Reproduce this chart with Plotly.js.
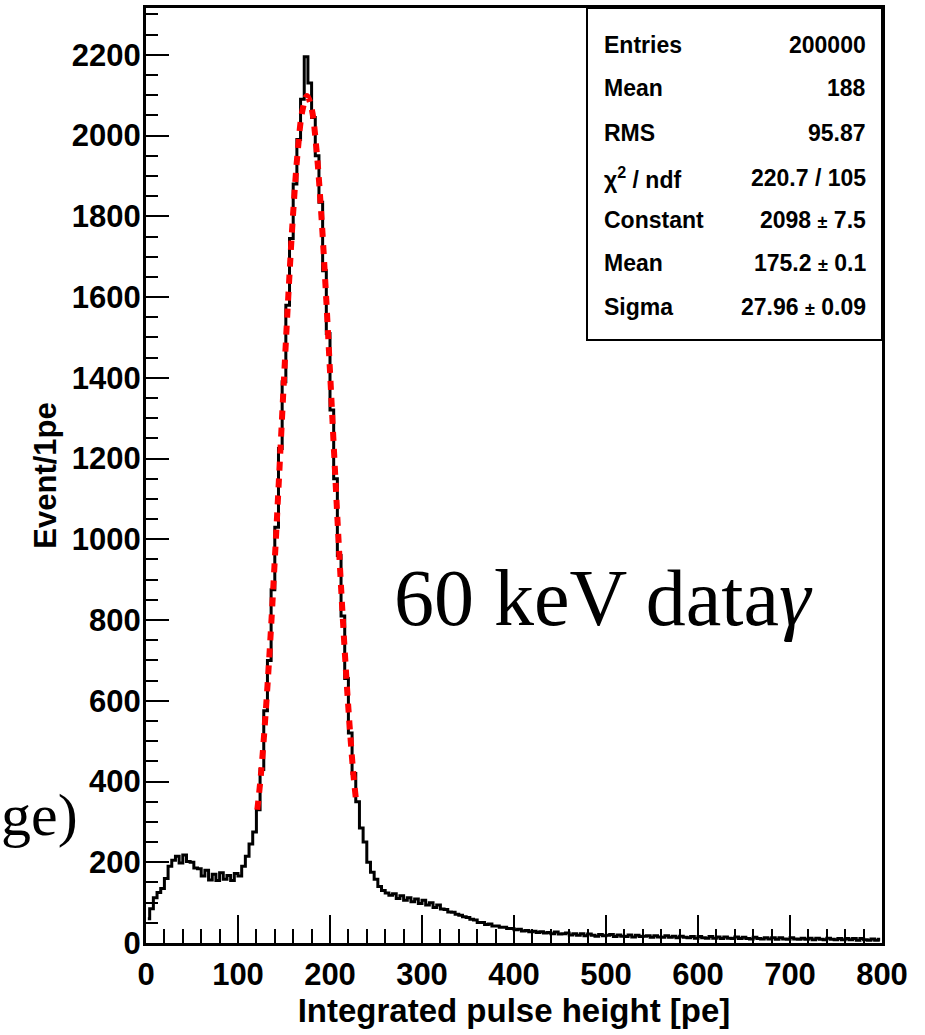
<!DOCTYPE html>
<html>
<head>
<meta charset="utf-8">
<script src="https://cdn.plot.ly/plotly-3.0.1.min.js"></script>
<style>html,body{margin:0;padding:0;background:#fff;}#chart{width:925px;height:1035px;}</style>
</head>
<body>
<div id="chart"></div>
<script>
// Histogram: 4 pe wide bins, values in Event/1pe
var binWidth = 4;
var countsLow = [60, 85, 112, 125, 135, 160, 190, 205, 215, 198, 218, 202, 200, 186, 184, 166, 180, 156, 170, 155,
                 174, 158, 167, 155, 172, 166, 190, 215, 245, 275];
var countsPeak = [330, 430, 575, 700, 875, 1030, 1225, 1390, 1580, 1745, 1880, 1990, 2090, 2195, 2130, 2045, 1950, 1835,
                  1665, 1510, 1320, 1150, 960, 810, 655, 520, 420, 350];
var countsTail = [285, 250, 200, 175, 158, 140, 130, 124, 118, 122, 110, 117, 106, 112, 102, 109, 98, 106, 94, 100,
                  88, 94, 84, 83, 77, 76, 71, 69, 65, 63, 59, 57, 51, 51, 46, 47, 42, 42, 39, 39,
                  36, 36, 33, 34, 30, 31, 28, 29, 26, 28, 25, 26];
var countsFlat = [23, 27, 22, 23, 25, 20, 23, 19, 23, 18, 22, 19, 17, 21, 18, 19, 21, 16, 20, 17,
                  16, 20, 15, 19, 16, 17, 18, 14, 18, 15, 14, 18, 14, 17, 13, 17, 14, 13, 16, 12,
                  16, 13, 12, 16, 12, 15, 11, 15, 12, 11, 15, 11, 14, 11, 10, 14, 11, 10, 13, 10,
                  13, 9, 13, 10, 9, 13, 10, 9, 12, 9, 12, 8, 12, 9, 8, 12, 9, 8, 11, 8,
                  11, 8, 11, 7, 11, 8, 7, 10, 7, 9];

// Gaussian fit curve
var fitX = [121, 125, 130, 135, 140, 145, 150, 155, 160, 165, 170, 175, 180, 185, 190, 195, 200, 205, 210, 215, 220, 225, 228];
var fitY = [330, 419, 568, 746, 950, 1171, 1398, 1616, 1810, 1963, 2062, 2098, 2067, 1973, 1824, 1633, 1416, 1189, 967, 762, 581, 429, 360];

// Stats box
var statLabels = ["Entries", "Mean", "RMS", "\u03c7<sup>2</sup> / ndf", "Constant", "Mean", "Sigma"];
var statValues = ["200000", "188", "95.87", "220.7 / 105", "2098 <span style='font-size:18px'>\u00b1</span> 7.5",
                  "175.2 <span style='font-size:18px'>\u00b1</span> 0.1", "27.96 <span style='font-size:18px'>\u00b1</span> 0.09"];

var xTitle = "Integrated pulse height [pe]";
var yTitle = "Event/1pe";
var dataLabel = "60 keV data<i>\u03b3</i>";
var sideLabel = "ge)";

var counts = countsLow.concat(countsPeak, countsTail, countsFlat);
var centers = counts.map(function(_, i){ return binWidth * i + binWidth / 2; });

var hist = {
  x: centers, y: counts, type: 'scatter', mode: 'lines',
  line: {color: '#000', width: 3, shape: 'hvh'}, hoverinfo: 'skip', showlegend: false
};
var fit = {
  x: fitX, y: fitY, type: 'scatter', mode: 'lines',
  line: {color: '#ff0000', width: 6, dash: '9px,8px', shape: 'spline'}, hoverinfo: 'skip', showlegend: false
};

// geometry helpers (plot area pixels)
var L = 146, R = 882, T = 8, B = 943;
function px(x){ return (x - L) / (R - L); }
function py(y){ return (B - y) / (B - T); }

var rowY = [45, 88, 133, 178, 220, 263, 307];
var ann = [];
var sfont = {family: 'Liberation Sans, Arial, sans-serif', size: 23, color: '#000', weight: 'bold'};
for (var i = 0; i < statLabels.length; i++) {
  ann.push({xref: 'paper', yref: 'paper', x: px(602), y: py(rowY[i]), xanchor: 'left', yanchor: 'middle',
            text: statLabels[i], showarrow: false, font: sfont});
  ann.push({xref: 'paper', yref: 'paper', x: px(868), y: py(rowY[i]), xanchor: 'right', yanchor: 'middle',
            text: statValues[i], showarrow: false, font: sfont});
}
ann.push({xref: 'paper', yref: 'paper', x: px(392), y: py(598), xanchor: 'left', yanchor: 'middle',
          text: dataLabel, showarrow: false,
          font: {family: 'Liberation Serif, Times New Roman, serif', size: 80, color: '#000'}});
ann.push({xref: 'paper', yref: 'paper', x: px(80), y: py(815), xanchor: 'right', yanchor: 'middle',
          text: sideLabel, showarrow: false,
          font: {family: 'Liberation Serif, Times New Roman, serif', size: 60, color: '#000'}});

var tickFont = {family: 'Liberation Sans, Arial, sans-serif', size: 31, color: '#000', weight: 'bold'};
var layout = {
  width: 925, height: 1035,
  margin: {l: L, r: 925 - R, t: T, b: 1035 - B},
  paper_bgcolor: '#fff', plot_bgcolor: '#fff',
  showlegend: false,
  xaxis: {
    range: [0, 800], tickmode: 'linear', tick0: 0, dtick: 100,
    ticks: 'inside', ticklen: 28, tickwidth: 2, tickcolor: '#000',
    minor: {dtick: 20, ticks: 'inside', ticklen: 14, tickwidth: 2, tickcolor: '#000', showgrid: false},
    showgrid: false, zeroline: false, showline: true, linewidth: 3, linecolor: '#000', mirror: true,
    tickfont: tickFont, ticklabelstandoff: 2,
    title: {text: xTitle, font: {family: 'Liberation Sans, Arial, sans-serif', size: 33, color: '#000', weight: 'bold'}, standoff: 4}
  },
  yaxis: {
    range: [0, 2316], tickmode: 'linear', tick0: 0, dtick: 200,
    ticks: 'inside', ticklen: 23, tickwidth: 2, tickcolor: '#000',
    minor: {dtick: 50, ticks: 'inside', ticklen: 12, tickwidth: 2, tickcolor: '#000', showgrid: false},
    showgrid: false, zeroline: false, showline: true, linewidth: 3, linecolor: '#000', mirror: true,
    tickfont: tickFont, ticklabelstandoff: -4,
    title: {text: yTitle, font: {family: 'Liberation Sans, Arial, sans-serif', size: 31, color: '#000', weight: 'bold'}, standoff: 6}
  },
  shapes: [{type: 'rect', xref: 'paper', yref: 'paper', x0: px(587), x1: 1, y0: py(340), y1: 1,
            line: {color: '#000', width: 2}, fillcolor: '#fff', layer: 'above'}],
  annotations: ann
};
Plotly.newPlot('chart', [hist, fit], layout, {staticPlot: true, displayModeBar: false});
</script>
</body>
</html>
